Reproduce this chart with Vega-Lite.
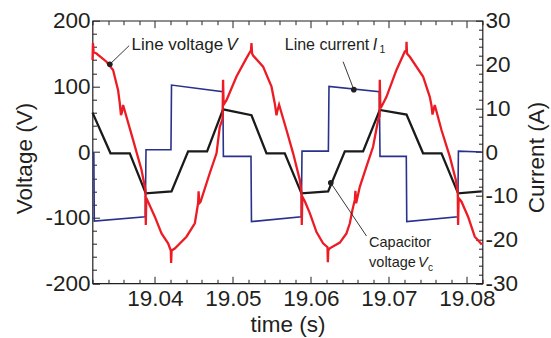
{
"$schema": "https://vega.github.io/schema/vega-lite/v6.json",
"width": 390, "height": 262.6,
"autosize": {"type": "none"},
"padding": {"left": 92.5, "top": 20.7, "right": 68.5, "bottom": 54.7},
"background": "white",
"data": {"values": [{}]},
"config": {
  "view": {"stroke": "#231f20", "strokeWidth": 1.2},
  "axis": {"domain": false, "grid": false, "labelFont": "Liberation Sans", "labelFontSize": 22.5, "labelColor": "#231f20", "titleFont": "Liberation Sans", "titleFontSize": 22.5, "titleFontWeight": "normal", "titleColor": "#231f20", "tickColor": "#231f20", "tickWidth": 1, "labelFlush": false, "labelOverlap": false, "labelBound": false, "labelExpr": "replace(datum.label, '\u2212', '-')"},
  "text": {"font": "Liberation Sans", "fontSize": 16, "color": "#231f20", "align": "left", "baseline": "alphabetic"}
},
"datasets": {
  "red": [
    {"t":19.03200,"v":140},{"t":19.03206,"v":166},{"t":19.03214,"v":152},{"t":19.03251,"v":150},{"t":19.03379,"v":137.5},{"t":19.03464,"v":125},{"t":19.03528,"v":94},{"t":19.03550,"v":74},{"t":19.03565,"v":56},{"t":19.03576,"v":60},{"t":19.03592,"v":71.6},{"t":19.03721,"v":18},{"t":19.03828,"v":-27},{"t":19.03879,"v":-58},{"t":19.03883,"v":-111},{"t":19.03890,"v":-70},{"t":19.03913,"v":-76},{"t":19.03999,"v":-98.5},{"t":19.04085,"v":-124},{"t":19.04169,"v":-139},{"t":19.04204,"v":-150},{"t":19.04208,"v":-169},{"t":19.04214,"v":-150},{"t":19.04255,"v":-147},{"t":19.04405,"v":-129},{"t":19.04512,"v":-108.6},{"t":19.04554,"v":-78},{"t":19.04560,"v":-60},{"t":19.04569,"v":-78},{"t":19.04585,"v":-76},{"t":19.04704,"v":-32},{"t":19.04790,"v":-2},{"t":19.04832,"v":38.6},{"t":19.04867,"v":50},{"t":19.04874,"v":110},{"t":19.04881,"v":72},{"t":19.04918,"v":79},{"t":19.05046,"v":115},{"t":19.05174,"v":143},{"t":19.05232,"v":155},{"t":19.05238,"v":166},{"t":19.05246,"v":150},{"t":19.05259,"v":147},{"t":19.05387,"v":130},{"t":19.05495,"v":99.5},{"t":19.05537,"v":74},{"t":19.05559,"v":56},{"t":19.05569,"v":62},{"t":19.05592,"v":72},{"t":19.05687,"v":33.5},{"t":19.05772,"v":-2},{"t":19.05858,"v":-42.6},{"t":19.05879,"v":-62},{"t":19.05883,"v":-111},{"t":19.05890,"v":-68},{"t":19.05922,"v":-75},{"t":19.05986,"v":-93},{"t":19.06072,"v":-122},{"t":19.06156,"v":-139},{"t":19.06213,"v":-145},{"t":19.06217,"v":-168},{"t":19.06223,"v":-150},{"t":19.06242,"v":-146.7},{"t":19.06371,"v":-138},{"t":19.06456,"v":-124},{"t":19.06499,"v":-108.6},{"t":19.06533,"v":-88},{"t":19.06563,"v":-73},{"t":19.06571,"v":-59},{"t":19.06580,"v":-78},{"t":19.06627,"v":-53},{"t":19.06713,"v":-22},{"t":19.06797,"v":8},{"t":19.06862,"v":48.7},{"t":19.06881,"v":55},{"t":19.06883,"v":110},{"t":19.06890,"v":72},{"t":19.06905,"v":69},{"t":19.06969,"v":84},{"t":19.07097,"v":125},{"t":19.07204,"v":153},{"t":19.07223,"v":155},{"t":19.07226,"v":168},{"t":19.07232,"v":150},{"t":19.07268,"v":145},{"t":19.07438,"v":115},{"t":19.07524,"v":84},{"t":19.07547,"v":70},{"t":19.07559,"v":57},{"t":19.07569,"v":62},{"t":19.07588,"v":71.6},{"t":19.07674,"v":33.5},{"t":19.07781,"v":-7},{"t":19.07858,"v":-42.6},{"t":19.07883,"v":-63},{"t":19.07887,"v":-111},{"t":19.07894,"v":-70},{"t":19.07931,"v":-75.7},{"t":19.08015,"v":-98.5},{"t":19.08101,"v":-129},{"t":19.08191,"v":-141}
  ],
  "black": [
    {"t":19.03200,"v":60},{"t":19.03431,"v":-2},{"t":19.03678,"v":-2},{"t":19.03883,"v":-63},{"t":19.04213,"v":-60},{"t":19.04426,"v":1},{"t":19.04669,"v":1},{"t":19.04874,"v":65},{"t":19.05238,"v":56},{"t":19.05431,"v":-2},{"t":19.05665,"v":-2},{"t":19.05879,"v":-63},{"t":19.06221,"v":-60},{"t":19.06435,"v":1},{"t":19.06669,"v":1},{"t":19.06883,"v":64},{"t":19.07226,"v":57},{"t":19.07438,"v":-2},{"t":19.07674,"v":-2},{"t":19.07887,"v":-63},{"t":19.08191,"v":-60}
  ],
  "blue": [
    {"t":19.03200,"i":-0.3},{"t":19.03217,"i":-0.3},{"t":19.03223,"i":-15.8},{"t":19.03877,"i":-14.8},{"t":19.03886,"i":0.5},{"t":19.04206,"i":0.5},{"t":19.04213,"i":15.3},{"t":19.04871,"i":13.8},{"t":19.04878,"i":-1.0},{"t":19.05232,"i":-1.0},{"t":19.05238,"i":-15.9},{"t":19.05877,"i":-14.8},{"t":19.05886,"i":0.2},{"t":19.06224,"i":0.2},{"t":19.06232,"i":15.0},{"t":19.06877,"i":13.8},{"t":19.06886,"i":-1.0},{"t":19.07223,"i":-1.0},{"t":19.07229,"i":-15.9},{"t":19.07883,"i":-14.8},{"t":19.07891,"i":0.2},{"t":19.08191,"i":0.0}
  ]
},
"layer": [
  {"data": {"name": "blue"},
   "mark": {"type": "line", "color": "#28318c", "strokeWidth": 1.6},
   "encoding": {
     "x": {"field": "t", "type": "quantitative", "scale": {"domain": [19.032, 19.082], "nice": false, "zero": false},
           "axis": {"orient": "top", "values": [19.04, 19.05, 19.06, 19.07, 19.08], "labels": false, "tickSize": -7, "title": null}},
     "y": {"field": "i", "type": "quantitative", "scale": {"domain": [-30, 30], "nice": false, "zero": false},
           "axis": {"orient": "right", "values": [-30, -20, -10, 0, 10, 20, 30], "tickSize": -7, "labelPadding": 9.5, "labelAlign": "left", "title": "Current (A)", "titleAngle": 270, "titleX": 53.5, "titleY": 136.3, "titleAlign": "center", "titleBaseline": "middle"}}
   }},
  {"data": {"name": "black"},
   "mark": {"type": "line", "color": "#1a1a1a", "strokeWidth": 2.3},
   "encoding": {
     "x": {"field": "t", "type": "quantitative", "scale": {"domain": [19.032, 19.082], "nice": false, "zero": false},
           "axis": {"orient": "bottom", "values": [19.032, 19.034, 19.036, 19.038, 19.042, 19.044, 19.046, 19.048, 19.052, 19.054, 19.056, 19.058, 19.062, 19.064, 19.066, 19.068, 19.072, 19.074, 19.076, 19.078, 19.082], "labels": false, "tickSize": -4, "title": null}},
     "y": {"field": "v", "type": "quantitative", "scale": {"domain": [-200, 200], "nice": false, "zero": false},
           "axis": {"orient": "left", "values": [-180, -160, -140, -120, -80, -60, -40, -20, 20, 40, 60, 80, 120, 140, 160, 180], "labels": false, "tickSize": -4, "title": null}}
   }},
  {"data": {"name": "red"},
   "mark": {"type": "line", "color": "#ed1c24", "strokeWidth": 2.3},
   "encoding": {
     "x": {"field": "t", "type": "quantitative", "scale": {"domain": [19.032, 19.082], "nice": false, "zero": false},
           "axis": {"orient": "bottom", "values": [19.04, 19.05, 19.06, 19.07, 19.08], "format": ".2f", "tickSize": -7, "labelPadding": 28.7, "labelBaseline": "alphabetic", "title": "time (s)", "titleX": 195, "titleY": 48.4, "titleBaseline": "alphabetic", "titleAlign": "center"}},
     "y": {"field": "v", "type": "quantitative", "scale": {"domain": [-200, 200], "nice": false, "zero": false},
           "axis": {"orient": "left", "values": [-200, -100, 0, 100, 200], "tickSize": -7, "labelPadding": 9.5, "title": "Voltage (V)", "titleX": -68.5, "titleY": 137.3, "titleAngle": 270, "titleAlign": "center", "titleBaseline": "middle"}}
   }},
  {"mark": {"type": "text", "text": "Line voltage", "fontSize": 17},
   "encoding": {
     "x": {"datum": 19.037, "type": "quantitative", "scale": {"domain": [19.032, 19.082], "nice": false, "zero": false},
           "axis": {"orient": "top", "values": [19.032, 19.034, 19.036, 19.038, 19.042, 19.044, 19.046, 19.048, 19.052, 19.054, 19.056, 19.058, 19.062, 19.064, 19.066, 19.068, 19.072, 19.074, 19.076, 19.078, 19.082], "labels": false, "tickSize": -4, "title": null}},
     "y": {"datum": 155.3, "type": "quantitative", "scale": {"domain": [-200, 200], "nice": false, "zero": false},
           "axis": {"orient": "right", "values": [-186.667, -173.333, -160, -146.667, -120, -106.667, -93.333, -80, -53.333, -40, -26.667, -13.333, 13.333, 26.667, 40, 53.333, 80, 93.333, 106.667, 120, 146.667, 160, 173.333, 186.667], "labels": false, "tickSize": -4, "title": null}}
   }},
  {"mark": {"type": "text", "text": "V", "fontStyle": "italic", "fontSize": 17},
   "encoding": {
     "x": {"datum": 19.04915, "type": "quantitative", "axis": null},
     "y": {"datum": 155.3, "type": "quantitative", "scale": {"domain": [-200, 200], "nice": false, "zero": false}, "axis": null}
   }},
  {"mark": {"type": "text", "text": "Line current"},
   "encoding": {
     "x": {"datum": 19.05665, "type": "quantitative", "axis": null},
     "y": {"datum": 155.3, "type": "quantitative", "scale": {"domain": [-200, 200], "nice": false, "zero": false}, "axis": null}
   }},
  {"mark": {"type": "text", "text": "I", "fontStyle": "italic"},
   "encoding": {
     "x": {"datum": 19.06792, "type": "quantitative", "axis": null},
     "y": {"datum": 155.3, "type": "quantitative", "scale": {"domain": [-200, 200], "nice": false, "zero": false}, "axis": null}
   }},
  {"mark": {"type": "text", "text": "1", "fontSize": 10.5},
   "encoding": {
     "x": {"datum": 19.06880, "type": "quantitative", "axis": null},
     "y": {"datum": 150.3, "type": "quantitative", "scale": {"domain": [-200, 200], "nice": false, "zero": false}, "axis": null}
   }},
  {"mark": {"type": "text", "text": "Capacitor", "fontSize": 14.5},
   "encoding": {
     "x": {"datum": 19.06746, "type": "quantitative", "axis": null},
     "y": {"datum": -145, "type": "quantitative", "scale": {"domain": [-200, 200], "nice": false, "zero": false}, "axis": null}
   }},
  {"mark": {"type": "text", "text": "voltage", "fontSize": 14.5},
   "encoding": {
     "x": {"datum": 19.06746, "type": "quantitative", "axis": null},
     "y": {"datum": -174.7, "type": "quantitative", "scale": {"domain": [-200, 200], "nice": false, "zero": false}, "axis": null}
   }},
  {"mark": {"type": "text", "text": "V", "fontStyle": "italic", "fontSize": 14.5},
   "encoding": {
     "x": {"datum": 19.07372, "type": "quantitative", "axis": null},
     "y": {"datum": -174.7, "type": "quantitative", "scale": {"domain": [-200, 200], "nice": false, "zero": false}, "axis": null}
   }},
  {"mark": {"type": "text", "text": "c", "fontSize": 10},
   "encoding": {
     "x": {"datum": 19.07500, "type": "quantitative", "axis": null},
     "y": {"datum": -180.8, "type": "quantitative", "scale": {"domain": [-200, 200], "nice": false, "zero": false}, "axis": null}
   }},
  {"mark": {"type": "rule", "color": "#231f20", "strokeWidth": 0.9},
   "encoding": {
     "x": {"datum": 19.03422, "type": "quantitative", "axis": null},
     "x2": {"datum": 19.03669},
     "y": {"datum": 133.6, "type": "quantitative", "scale": {"domain": [-200, 200], "nice": false, "zero": false}, "axis": null},
     "y2": {"datum": 161.9}
   }},
  {"mark": {"type": "rule", "color": "#231f20", "strokeWidth": 0.9},
   "encoding": {
     "x": {"datum": 19.0655, "type": "quantitative", "axis": null},
     "x2": {"datum": 19.06413},
     "y": {"datum": 95, "type": "quantitative", "scale": {"domain": [-200, 200], "nice": false, "zero": false}, "axis": null},
     "y2": {"datum": 137.5}
   }},
  {"mark": {"type": "rule", "color": "#231f20", "strokeWidth": 0.9},
   "encoding": {
     "x": {"datum": 19.06255, "type": "quantitative", "axis": null},
     "x2": {"datum": 19.06713},
     "y": {"datum": -47, "type": "quantitative", "scale": {"domain": [-200, 200], "nice": false, "zero": false}, "axis": null},
     "y2": {"datum": -128}
   }},
  {"mark": {"type": "point", "filled": true, "color": "#231f20", "size": 32, "opacity": 1},
   "encoding": {
     "x": {"datum": 19.03422, "type": "quantitative", "axis": null},
     "y": {"datum": 133.6, "type": "quantitative", "scale": {"domain": [-200, 200], "nice": false, "zero": false}, "axis": null}
   }},
  {"mark": {"type": "point", "filled": true, "color": "#231f20", "size": 32, "opacity": 1},
   "encoding": {
     "x": {"datum": 19.0655, "type": "quantitative", "axis": null},
     "y": {"datum": 95, "type": "quantitative", "scale": {"domain": [-200, 200], "nice": false, "zero": false}, "axis": null}
   }},
  {"mark": {"type": "point", "filled": true, "color": "#231f20", "size": 32, "opacity": 1},
   "encoding": {
     "x": {"datum": 19.06255, "type": "quantitative", "axis": null},
     "y": {"datum": -47, "type": "quantitative", "scale": {"domain": [-200, 200], "nice": false, "zero": false}, "axis": null}
   }}
],
"resolve": {"scale": {"y": "independent"}, "axis": {"x": "independent", "y": "independent"}}
}
